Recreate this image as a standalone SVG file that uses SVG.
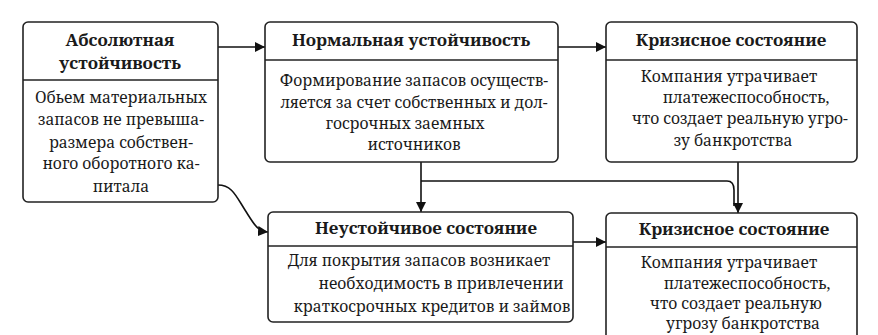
<svg xmlns="http://www.w3.org/2000/svg" width="878" height="335" viewBox="0 0 878 335" font-family="Noto Serif, Liberation Serif, serif">
<style>
.box{fill:#fff;stroke:#222;stroke-width:1.6}
.div{stroke:#222;stroke-width:1.4}
.h{font-family:'Noto Serif','Liberation Serif',serif;font-weight:bold;font-size:17px;fill:#1a1a1a;text-anchor:middle}
.b{font-family:'Noto Serif','Liberation Serif',serif;font-size:15.6px;fill:#1a1a1a;text-anchor:middle}
.c{fill:none;stroke:#111;stroke-width:1.6}
</style>
<defs>
<marker id="ah" viewBox="0 0 10 10" refX="10" refY="5" markerWidth="10" markerHeight="10" markerUnits="userSpaceOnUse" orient="auto">
<path d="M0,0 L10,5 L0,10 z" fill="#111"/>
</marker>
</defs>
<rect width="878" height="335" fill="#fff"/>
<g id="connectors">
<path class="c" d="M218,47 H265" marker-end="url(#ah)"/>
<path class="c" d="M558,47 H606" marker-end="url(#ah)"/>
<path class="c" d="M421,162 V212" marker-end="url(#ah)"/>
<path class="c" d="M421,181 H727 Q734,181 734,190 V206"/>
<path class="c" d="M738,162 V213" marker-end="url(#ah)"/>
<path class="c" d="M218,185 C232,185 236,196 245,210 S257,231 268,232" marker-end="url(#ah)"/>
<path class="c" d="M573,242 H606" marker-end="url(#ah)"/>
</g>
<g id="node-absolute">
<rect class="box" x="23" y="22" width="195" height="180" rx="5"/>
<line class="div" x1="23" y1="80" x2="218" y2="80"/>
<text class="h" x="120" y="46">Абсолютная</text>
<text class="h" x="120" y="69">устойчивость</text>
<text class="b" x="121" y="103">Обьем материальных</text>
<text class="b" x="121" y="125">запасов не превыша-</text>
<text class="b" x="121" y="148">размера собствен-</text>
<text class="b" x="121" y="169">ного оборотного ка-</text>
<text class="b" x="121" y="192">питала</text>
</g>
<g id="node-normal">
<rect class="box" x="265" y="22" width="293" height="140" rx="5"/>
<line class="div" x1="265" y1="60" x2="558" y2="60"/>
<text class="h" x="411" y="46">Нормальная устойчивость</text>
<text class="b" x="414" y="86">Формирование запасов осуществ-</text>
<text class="b" x="414" y="108">ляется за счет собственных и дол-</text>
<text class="b" x="405" y="129">госрочных заемных</text>
<text class="b" x="414" y="150">источников</text>
</g>
<g id="node-crisis-top">
<rect class="box" x="606" y="22" width="251" height="140" rx="5"/>
<line class="div" x1="606" y1="60" x2="857" y2="60"/>
<text class="h" x="731" y="46">Кризисное состояние</text>
<text class="b" x="729" y="82">Компания утрачивает</text>
<text class="b" x="746" y="103">платежеспособность,</text>
<text class="b" x="740" y="124">что создает реальную угро-</text>
<text class="b" x="733" y="146">зу банкротства</text>
</g>
<g id="node-unstable">
<rect class="box" x="268" y="212" width="305" height="110" rx="5"/>
<line class="div" x1="268" y1="246" x2="573" y2="246"/>
<text class="h" x="426" y="234">Неустойчивое состояние</text>
<text class="b" x="419" y="266">Для покрытия запасов возникает</text>
<text class="b" x="441" y="289">необходимость в привлечении</text>
<text class="b" x="432" y="312">краткосрочных кредитов и займов</text>
</g>
<g id="node-crisis-bottom">
<rect class="box" x="606" y="213" width="251" height="140" rx="5"/>
<line class="div" x1="606" y1="247" x2="857" y2="247"/>
<text class="h" x="734" y="235">Кризисное состояние</text>
<text class="b" x="729" y="268">Компания утрачивает</text>
<text class="b" x="747" y="289">платежеспособность,</text>
<text class="b" x="736" y="309">что создает реальную</text>
<text class="b" x="743" y="329">угрозу банкротства</text>
</g>
</svg>
